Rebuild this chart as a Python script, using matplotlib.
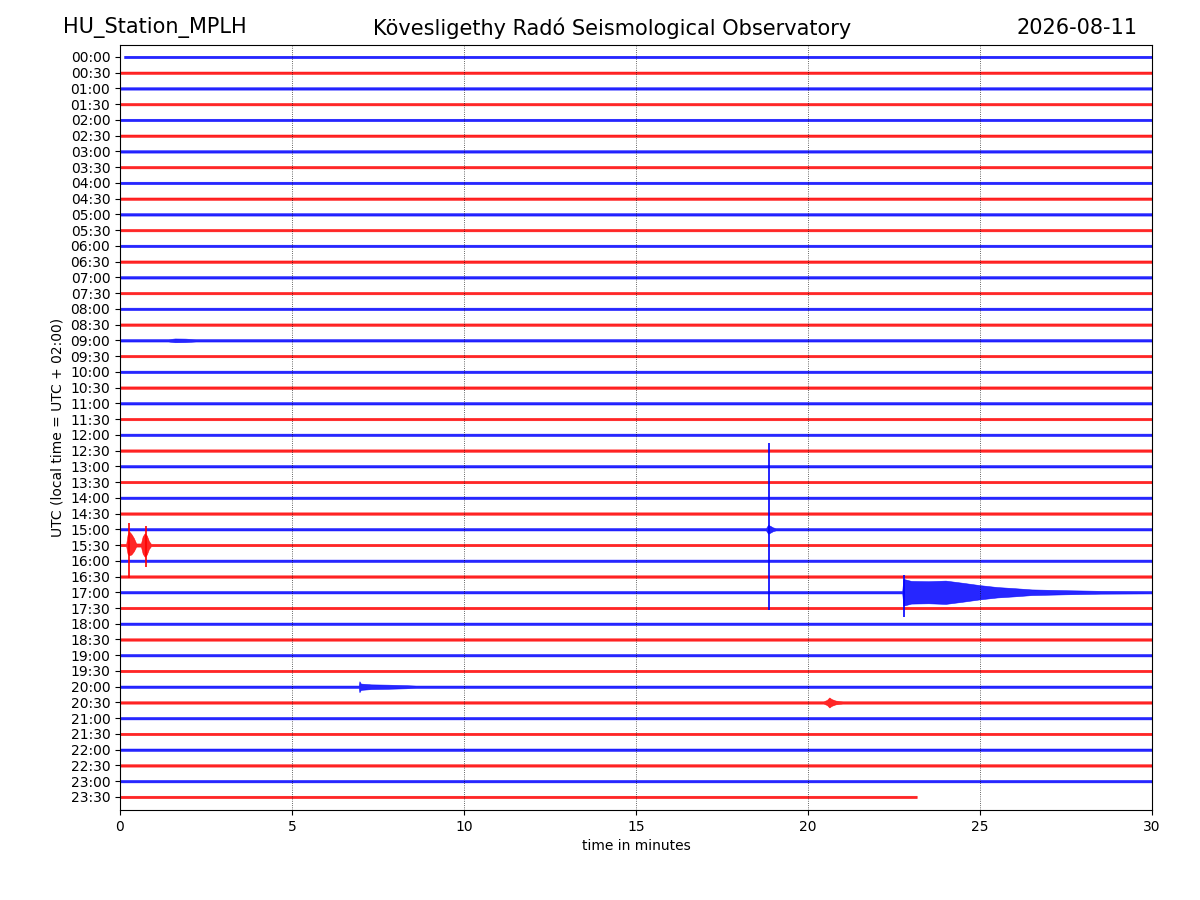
import matplotlib
matplotlib.use("Agg")
import matplotlib.pyplot as plt

# ---------------- data ----------------
TRACE_LABELS = ["00:00", "00:30", "01:00", "01:30", "02:00", "02:30", "03:00", "03:30",
                "04:00", "04:30", "05:00", "05:30", "06:00", "06:30", "07:00", "07:30",
                "08:00", "08:30", "09:00", "09:30", "10:00", "10:30", "11:00", "11:30",
                "12:00", "12:30", "13:00", "13:30", "14:00", "14:30", "15:00", "15:30",
                "16:00", "16:30", "17:00", "17:30", "18:00", "18:30", "19:00", "19:30",
                "20:00", "20:30", "21:00", "21:30", "22:00", "22:30", "23:00", "23:30"]
TRACE_COLORS = ["blue", "red"] * 24
TRACE_START = [0.12] + [0.0] * 47          # minutes
TRACE_END = [30.0] * 47 + [23.16]          # minutes
NOISE_HALF = [0.075] * 48                  # background noise half-width (trace units)

# event envelopes: trace label -> (times [min], upper half-width, lower half-width)
ev_0900_t = [1.40, 1.60, 1.90, 2.20]
ev_0900_up = [0.075, 0.12, 0.11, 0.075]
ev_0900_dn = [0.075, 0.12, 0.11, 0.075]

ev_1500_t = [18.78, 18.84, 18.90, 18.98, 19.06]
ev_1500_up = [0.075, 0.28, 0.22, 0.12, 0.075]
ev_1500_dn = [0.075, 0.28, 0.22, 0.12, 0.075]

ev_1530_t = [0.18, 0.22, 0.27, 0.33, 0.40, 0.47, 0.61, 0.66, 0.72, 0.78, 0.84, 0.90]
ev_1530_up = [0.075, 0.65, 0.85, 0.70, 0.45, 0.10, 0.10, 0.55, 0.75, 0.60, 0.25, 0.075]
ev_1530_dn = [0.075, 0.55, 0.65, 0.60, 0.40, 0.10, 0.10, 0.55, 0.75, 0.60, 0.25, 0.075]

ev_1700_t = [22.74, 22.77, 23.00, 23.50, 24.00, 24.50, 25.00, 25.50, 26.00, 26.50, 27.50, 28.50]
ev_1700_up = [0.075, 0.85, 0.72, 0.70, 0.74, 0.60, 0.45, 0.33, 0.26, 0.18, 0.13, 0.09]
ev_1700_dn = [0.075, 0.85, 0.72, 0.70, 0.74, 0.60, 0.45, 0.33, 0.26, 0.18, 0.13, 0.09]

ev_2000_t = [6.94, 6.96, 7.00, 7.30, 7.80, 8.30, 8.60]
ev_2000_up = [0.075, 0.35, 0.20, 0.15, 0.13, 0.10, 0.075]
ev_2000_dn = [0.075, 0.35, 0.20, 0.15, 0.13, 0.10, 0.075]

ev_2030_t = [20.45, 20.55, 20.62, 20.68, 20.80, 21.00]
ev_2030_up = [0.075, 0.16, 0.32, 0.22, 0.12, 0.075]
ev_2030_dn = [0.075, 0.16, 0.32, 0.22, 0.12, 0.075]

EVENTS = {
    "09:00": (ev_0900_t, ev_0900_up, ev_0900_dn),
    "15:00": (ev_1500_t, ev_1500_up, ev_1500_dn),
    "15:30": (ev_1530_t, ev_1530_up, ev_1530_dn),
    "17:00": (ev_1700_t, ev_1700_up, ev_1700_dn),
    "20:00": (ev_2000_t, ev_2000_up, ev_2000_dn),
    "20:30": (ev_2030_t, ev_2030_up, ev_2030_dn),
}

# single large spikes: trace, time [min], peak up, peak down (trace units)
SPIKE_TRACE = ["15:30", "15:30", "15:00", "17:00"]
SPIKE_T = [0.26, 0.76, 18.88, 22.80]
SPIKE_UP = [1.40, 1.20, 5.46, 1.08]
SPIKE_DOWN = [2.10, 1.40, 5.15, 1.60]

X_TICKS = [0, 5, 10, 15, 20, 25, 30]

# ---------------- plot ----------------
fig = plt.figure(figsize=(12, 9), dpi=100)
ax = fig.add_axes([0.1, 0.1, 0.86, 0.85])

for i, lab in enumerate(TRACE_LABELS):
    y0 = -i
    col = TRACE_COLORS[i]
    n = NOISE_HALF[i]
    t = [TRACE_START[i]]
    up = [n]
    dn = [n]
    if lab in EVENTS:
        et, eu, ed = EVENTS[lab]
        t += list(et)
        up += list(eu)
        dn += list(ed)
    t.append(TRACE_END[i])
    up.append(n)
    dn.append(n)
    lower = [y0 - d for d in dn]
    upper = [y0 + u for u in up]
    ax.fill_between(t, lower, upper, facecolor=col, edgecolor=col,
                    linewidth=0.4, alpha=0.85, snap=False)

for lab, ts, u, d in zip(SPIKE_TRACE, SPIKE_T, SPIKE_UP, SPIKE_DOWN):
    i = TRACE_LABELS.index(lab)
    ax.vlines(ts, -i - d, -i + u, color=TRACE_COLORS[i], linewidth=1.2)

ax.set_xlim(0, 30)
ax.set_ylim(-47.83, 0.76)
ax.set_xticks(X_TICKS)
ax.set_yticks([-i for i in range(len(TRACE_LABELS))])
ax.set_yticklabels(TRACE_LABELS)
ax.tick_params(labelsize=10)
ax.xaxis.grid(True, linestyle=":", color="black", linewidth=0.6, alpha=0.8)
ax.set_axisbelow(False)
ax.set_xlabel("time in minutes", fontsize=10)
ax.set_ylabel("UTC (local time = UTC + 02:00)", fontsize=10)

fig.text(0.0525, 0.969, "HU_Station_MPLH", ha="left", va="center", fontsize=15)
fig.text(0.51, 0.969, "Kövesligethy Radó Seismological Observatory", ha="center",
         va="center", fontsize=15)
fig.text(0.9475, 0.969, "2026-08-11", ha="right", va="center", fontsize=15)

fig.savefig("out.png", dpi=100)
